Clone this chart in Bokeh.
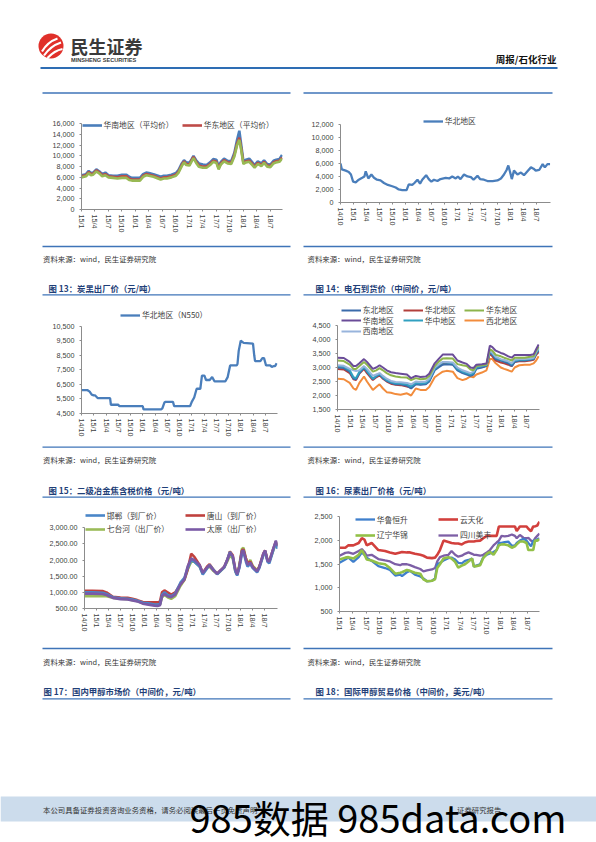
import math
from bokeh.plotting import figure
from bokeh.models import Range1d, FixedTicker, NumeralTickFormatter, Legend, LegendItem
from bokeh.layouts import column, row
from bokeh.core.properties import value
from bokeh.embed import file_html
from bokeh.resources import INLINE

# ---------------- data ----------------
ticks_15 = ["15/1", "15/4", "15/7", "15/10", "16/1", "16/4", "16/7", "16/10",
            "17/1", "17/4", "17/7", "17/10", "18/1", "18/4", "18/7"]
ticks_14 = ["14/10"] + ticks_15

# chart A (months since 2015-01): carbon black region prices
a_m = [0, 1, 1.6, 2.1, 2.6, 3.3, 4.0, 4.6, 5.3, 6.0, 7, 8, 9, 10, 10.6, 11.2, 12, 13, 13.7, 14.4,
       15, 16, 17, 17.6, 18.3, 19, 20, 21, 21.6, 22.3, 22.8, 23.3, 24, 24.5, 24.9, 25.5, 26.1, 27, 27.8, 28.6,
       29.3, 30, 30.5, 31, 31.7, 32.5, 33.3, 34, 34.6, 35.1, 35.5, 36, 36.6, 37.3, 38, 38.5, 39.2, 40, 40.6, 41.3,
       42, 42.7, 43.3, 44, 44.6]
a_south = [6400, 6600, 7200, 6800, 6900, 7500, 7100, 6600, 6900, 6400,
           6300, 6300, 6500, 6500, 6100, 5900, 5900, 5900, 6600, 6900,
           6800, 6600, 6300, 6100, 6300, 6300, 6500, 6800, 7400, 8600,
           9200, 8800, 8700, 9400, 10000, 9200, 8600, 8400, 8300, 8800,
           9400, 9300, 8100, 8900, 9500, 9100, 9000, 10600, 13000, 14700,
           12200, 9000, 9300, 9500, 8800, 8300, 9000, 8600, 9200, 8500,
           8400, 9100, 9300, 9400, 10200]
a_east = [6200, 6400, 7000, 6600, 6700, 7300, 6900, 6400, 6600, 6200,
          6100, 6000, 6200, 6200, 5800, 5600, 5600, 5600, 6300, 6600,
          6500, 6300, 6000, 5800, 6000, 6000, 6200, 6500, 7100, 8300,
          9000, 8500, 8400, 9200, 9800, 8900, 8200, 8000, 8000, 8500,
          9100, 8900, 7700, 8600, 9200, 8800, 8700, 10200, 12300, 13400,
          11500, 8700, 9000, 9100, 8500, 8000, 8700, 8300, 8900, 8200,
          8100, 8800, 9000, 9100, 9700]
a_other = [6000, 6200, 6800, 6400, 6500, 7100, 6700, 6200, 6400, 6000,
           5900, 5800, 5900, 5900, 5500, 5400, 5400, 5400, 6100, 6400,
           6300, 6100, 5800, 5600, 5800, 5800, 6000, 6300, 6900, 8100,
           8800, 8300, 8200, 9000, 9600, 8700, 8000, 7800, 7800, 8300,
           8900, 8700, 7500, 8400, 9000, 8600, 8500, 9900, 12000, 13000,
           11200, 8500, 8800, 8900, 8300, 7800, 8500, 8100, 8700, 8000,
           7900, 8600, 8800, 8900, 9500]

# chart B (months since 2014-10): calcium carbide, North China
b_m = [0, 0.3, 1.2, 1.9, 2.4, 2.9, 3.5, 4.2, 5.0, 5.5, 5.8, 6.4, 7.1, 7.7, 8.4, 9.2, 10, 10.9, 11.9, 12.7,
       13.4, 14.2, 15.2, 15.7, 16.5, 17, 17.7, 18.3, 18.8, 19.7, 20.3, 20.9, 21.5, 22.3, 23, 24.2, 25, 25.7, 26.5, 27,
       27.6, 28.4, 29.2, 30, 30.6, 31.5, 32.1, 33, 33.8, 35, 36.1, 36.9, 37.6, 38.2, 38.6, 39, 39.4, 39.9, 40.7, 41.5,
       42.2, 43, 43.8, 44.4, 44.9, 45.7, 46.5, 47, 47.6, 48.2]
b_north = [6000, 5100, 4900, 4700, 4300, 3200, 3100, 3500, 3800, 4000,
           4800, 3700, 4300, 3800, 3500, 3400, 3000, 2700, 2500, 2300,
           2000, 1900, 1900, 2800, 2700, 3000, 3500, 2900, 3500, 4200,
           3600, 3200, 3500, 3300, 3600, 3800, 3700, 4000, 3700, 4000,
           3600, 4300, 4000, 3900, 3500, 4100, 3600, 3500, 3300, 3300,
           3400, 3700, 4300, 5000, 5700, 4700, 3600, 4900, 4300, 4600,
           4200, 4800, 5400, 5200, 4900, 5000, 5900, 5400, 5900, 5900]

# chart C (months since 2014-10): metallurgical coke N550
c_m = [0, 1.5, 2, 2.5, 3, 3.3, 4, 7, 7.2, 9, 9.3, 15, 15.2, 19.5, 19.8, 20.3, 20.6, 22.4, 22.7, 26.6,
       27, 27.6, 28.2, 29.1, 29.5, 30.1, 30.5, 31.4, 32, 32.6, 35.2, 35.8, 36.4, 38, 38.2, 38.5, 39, 39.7, 42, 42.3,
       42.5, 43.8, 44.3, 44.7, 45.2, 46.2, 46.6, 47, 47.4, 47.8]
c_north = [6100, 6100, 6000, 5800, 5750, 5750, 5550, 5550, 5100, 5100,
           5000, 5000, 4780, 4780, 4850, 5250, 5300, 5300, 5000, 5000,
           5300, 5600, 6200, 6200, 7100, 7100, 6800, 6800, 7000, 6700,
           6700, 7000, 7800, 7800, 7900, 8800, 9500, 9350, 9300, 8500,
           8100, 8100, 8300, 8300, 7800, 7800, 7700, 7750, 7750, 7950]

# chart D (months since 2014-10): urea ex-factory prices
d_m = [0, 1.5, 2.9, 3.8, 4.4, 5.2, 6.3, 7.0, 8.4, 9.2, 10.0, 10.8, 11.7, 12.7, 13.8, 15.0, 16.5, 17.5, 18.6, 19.7,
       21.0, 21.8, 23.1, 24.0, 25.0, 25.9, 27.4, 28.5, 29.7, 30.7, 31.6, 32.3, 33.0, 34.3, 35.4, 36.2, 36.8, 37.6, 38.8, 39.6,
       40.6, 41.4, 42.1, 43.2, 44.5, 45.8, 46.6, 47.2, 47.8]
d_northeast = [3000, 2980, 2850, 2600, 2580, 2800, 3000, 2850, 2580, 2680,
               2750, 2620, 2520, 2450, 2400, 2400, 2350, 2250, 2400, 2380,
               2400, 2500, 2900, 3000, 3100, 3120, 3100, 2900, 2800, 2750,
               2700, 2750, 2950, 3000, 3050, 3550, 3450, 3300, 3250, 3200,
               3150, 3050, 3200, 3250, 3250, 3280, 3300, 3500, 3600]
d_north = [2950, 2930, 2800, 2580, 2550, 2780, 2950, 2800, 2550, 2650,
           2720, 2600, 2500, 2420, 2380, 2370, 2320, 2280, 2420, 2400,
           2420, 2520, 2950, 3050, 3150, 3150, 3120, 2920, 2830, 2780,
           2720, 2780, 2980, 3020, 3060, 3500, 3400, 3250, 3180, 3150,
           3100, 3050, 3200, 3220, 3220, 3250, 3280, 3450, 3550]
d_east = [3250, 3230, 3100, 2950, 2950, 3050, 3200, 3100, 2850, 2900,
          2980, 2900, 2800, 2720, 2680, 2650, 2640, 2550, 2620, 2580,
          2600, 2700, 3050, 3200, 3320, 3330, 3320, 3120, 3080, 3050,
          2930, 2900, 3050, 3080, 3100, 3650, 3600, 3450, 3400, 3350,
          3300, 3250, 3350, 3350, 3350, 3380, 3400, 3600, 3750]
d_south = [3350, 3340, 3200, 3050, 3050, 3150, 3300, 3200, 2950, 3000,
           3080, 3000, 2900, 2830, 2800, 2780, 2750, 2620, 2700, 2660,
           2680, 2780, 3150, 3300, 3460, 3460, 3460, 3250, 3180, 3130,
           3000, 2980, 3100, 3120, 3140, 3780, 3730, 3600, 3520, 3480,
           3400, 3350, 3450, 3450, 3450, 3450, 3470, 3650, 3820]
d_central = [3050, 3030, 2900, 2650, 2620, 2850, 3020, 2880, 2600, 2700,
             2780, 2650, 2550, 2480, 2440, 2430, 2400, 2320, 2450, 2430,
             2450, 2550, 2950, 3080, 3180, 3180, 3150, 2950, 2850, 2800,
             2750, 2800, 3000, 3050, 3080, 3600, 3500, 3350, 3280, 3250,
             3200, 3120, 3250, 3280, 3280, 3300, 3320, 3520, 3650]
d_northwest = [2600, 2580, 2450, 2250, 2200, 2450, 2680, 2500, 2200, 2300,
               2400, 2250, 2120, 2100, 2050, 2030, 2080, 2000, 2250, 2200,
               2200, 2300, 2650, 2750, 2850, 2880, 2850, 2620, 2550, 2600,
               2680, 2650, 2750, 2820, 2900, 3300, 3300, 3150, 3000, 2950,
               2900, 2850, 3000, 3080, 3100, 3100, 3150, 3250, 3400]
d_southwest = [3080, 3060, 2950, 2900, 2870, 2900, 3050, 2950, 2700, 2750,
               2800, 2700, 2600, 2520, 2480, 2470, 2450, 2400, 2500, 2480,
               2500, 2600, 3000, 3100, 3200, 3200, 3180, 3000, 2900, 2850,
               2800, 2850, 3050, 3080, 3100, 3620, 3520, 3380, 3300, 3270,
               3220, 3150, 3280, 3300, 3300, 3320, 3350, 3550, 3700]

# chart E (months since 2014-10): domestic methanol
e_m = [0, 2, 4.5, 5.5, 7.1, 9, 10.8, 12, 13.2, 14.6, 16, 17.5, 18.3, 18.9, 19.4, 20, 20.8, 21.7, 22.7, 24,
       25, 25.8, 26.7, 27.5, 28.8, 29.6, 30.7, 31.3, 32.3, 33.2, 34.2, 35, 35.7, 36.4, 37.1, 37.75, 38.2, 38.75, 39.4, 39.8,
       40.4, 40.8, 41.5, 42.1, 43.2, 43.75, 44.75, 45.2, 45.8, 46.25, 47.1, 47.9, 48.3]
e_handan = [1000, 1000, 990, 950, 850, 820, 800, 780, 740, 680,
            660, 620, 620, 640, 920, 1000, 920, 880, 960, 1300,
            1450, 1750, 2000, 1950, 1800, 1550, 1750, 1850, 1700, 1560,
            1680, 1780, 2000, 2250, 2100, 1650, 1520, 1750, 2200, 2250,
            1950, 1800, 1880, 1750, 1620, 1750, 2150, 2280, 1950, 1900,
            2250, 2560, 2350]
e_tangshan = [1050, 1050, 1040, 1000, 860, 840, 830, 800, 760, 700,
              690, 690, 690, 720, 1000, 1060, 1000, 930, 1000, 1250,
              1400, 1700, 2200, 2100, 1850, 1600, 1800, 1870, 1700, 1580,
              1700, 1800, 2000, 2270, 2150, 1700, 1550, 1800, 2300, 2330,
              2050, 1900, 1950, 1800, 1650, 1800, 2200, 2300, 2000, 1950,
              2300, 2580, 2420]
e_qitaihe = [880, 880, 880, 880, 830, 800, 790, 760, 730, 660,
             640, 620, 620, 620, 850, 920, 850, 800, 880, 1200,
             1380, 1700, 1950, 1950, 1800, 1580, 1760, 1800, 1660, 1570,
             1680, 1780, 1950, 2150, 2050, 1650, 1550, 1850, 2350, 2380,
             2050, 1900, 2000, 1820, 1680, 1800, 2150, 2280, 2000, 1950,
             2250, 2520, 2450]
e_taiyuan = [960, 960, 950, 920, 830, 790, 780, 750, 720, 650,
             620, 590, 580, 600, 880, 950, 880, 850, 930, 1250,
             1400, 1800, 2050, 2000, 1850, 1600, 1780, 1830, 1680, 1580,
             1700, 1800, 2000, 2220, 2120, 1700, 1560, 1800, 2280, 2300,
             2000, 1850, 1920, 1780, 1650, 1780, 2200, 2300, 1980, 1950,
             2300, 2600, 2450]

# chart F (months since 2015-01): international methanol trade
f_m = [0, 1.3, 2, 3.1, 4.3, 5, 5.6, 6.1, 7.2, 8.7, 10.2, 11.3, 12.5, 13.6, 14, 15.1, 15.8, 16.9, 18.1, 18.8,
       19.6, 20.7, 21.4, 21.9, 22.5, 23.3, 24.4, 25.1, 25.9, 26.6, 27.4, 28.1, 28.9, 29.7, 30.1, 30.6, 31.5, 32.2, 33, 33.7,
       34.5, 35.2, 35.7, 36.3, 37, 37.8, 38.6, 39.3, 39.7, 40.4, 41.2, 41.9, 42.3, 42.9, 43.4, 43.8, 44.3, 44.8]
f_hualu = [1530, 1600, 1640, 1550, 1650, 1750, 1700, 1640, 1570, 1460,
           1420, 1380, 1260, 1280, 1250, 1330, 1360, 1280, 1240, 1200,
           1140, 1150, 1200, 1500, 1530, 1580, 1630, 1640, 1600, 1530,
           1520, 1570, 1590, 1620, 1450, 1470, 1500, 1650, 1700, 1730,
           1760, 1800, 1950, 1950, 1970, 1980, 1890, 1900, 1950, 2000,
           2040, 2000, 1950, 1880, 2000, 2000, 2030, 2050]
f_yuntianhua = [1850, 1850, 1900, 1900, 1950, 2050, 2020, 1900, 1950, 1800,
                1780, 1750, 1720, 1750, 1760, 1750, 1750, 1720, 1700, 1680,
                1640, 1630, 1640, 1700, 1800, 2000, 1970, 1950, 1940, 1940,
                1920, 1960, 1980, 1980, 1980, 1990, 2000, 2050, 2100, 2100,
                2100, 2100, 2300, 2300, 2300, 2300, 2300, 2300, 2200, 2300,
                2300, 2300, 2250, 2200, 2300, 2300, 2320, 2400]
f_huajin = [1600, 1640, 1650, 1620, 1700, 1800, 1700, 1600, 1580, 1520,
            1500, 1420, 1300, 1320, 1330, 1380, 1360, 1320, 1300, 1180,
            1140, 1150, 1180, 1420, 1500, 1620, 1650, 1620, 1550, 1430,
            1470, 1500, 1560, 1620, 1450, 1460, 1480, 1630, 1720, 1760,
            1700, 1800, 1900, 1920, 1920, 1900, 1850, 1880, 1920, 1980,
            1980, 1950, 1800, 1800, 1800, 2000, 2000, 2030]
f_meifeng = [1680, 1740, 1750, 1720, 1780, 1820, 1760, 1680, 1700, 1610,
             1580, 1560, 1500, 1480, 1500, 1500, 1480, 1440, 1400, 1350,
             1370, 1390, 1420, 1560, 1650, 1680, 1700, 1780, 1700, 1660,
             1680, 1720, 1750, 1720, 1700, 1700, 1680, 1700, 1750, 1800,
             1900, 1960, 2000, 2100, 2090, 2100, 2130, 2100, 2050, 2120,
             2060, 2050, 2060, 2000, 1980, 2050, 2100, 2150]

SRC = "资料来源：wind，民生证券研究院"
captions = ["图 13：炭黑出厂价（元/吨）", "图 14：电石到货价（中间价，元/吨）",
            "图 15：二级冶金焦含税价格（元/吨）", "图 16：尿素出厂价格（元/吨）",
            "图 17：国内甲醇市场价（中间价，元/吨）", "图 18：国际甲醇贸易价格（中间价，美元/吨）"]

CJK = "Noto Sans CJK SC"
NUMF = "Liberation Sans"
LINE_BLUE = "#3F74B8"
CAP_COLOR = "#1F3F78"
PAGE_W = 596


def make_chart(fx0, fx1, fy0, fy1, fl, fr, axis_top, fb, frame_top,
               xmax, y0, y1, ystep, yfmt, xlabels):
    # the frame reaches up to frame_top so that the legend fits inside it;
    # the y axis itself is bounded to [y0, y1]
    y1_ext = y1 + (axis_top - frame_top) * (y1 - y0) / (fb - axis_top)
    p = figure(width=fx1 - fx0, height=fy1 - fy0,
               x_range=Range1d(0, xmax), y_range=Range1d(y0, y1_ext),
               output_backend="svg", toolbar_location=None,
               min_border_left=round(fl - fx0), min_border_right=round(fx1 - fr),
               min_border_top=round(frame_top - fy0), min_border_bottom=round(fy1 - fb))
    p.outline_line_color = None
    p.grid.visible = False
    ticks = [3 * i for i in range(len(xlabels))]
    p.xaxis.ticker = FixedTicker(ticks=ticks)
    p.xaxis.major_label_overrides = {t: lab for t, lab in zip(ticks, xlabels)}
    p.xaxis.major_label_orientation = -math.pi / 2
    p.xaxis.major_tick_out = 2
    p.xaxis.major_tick_in = 0
    p.xaxis.major_label_standoff = 3
    p.yaxis.ticker = FixedTicker(ticks=list(range(y0, y1 + 1, ystep)))
    p.yaxis.formatter = NumeralTickFormatter(format=yfmt)
    p.yaxis.bounds = (y0, y1)
    p.yaxis.major_tick_out = 2
    p.yaxis.major_tick_in = 0
    p.yaxis.major_label_standoff = 5
    for ax in p.axis:
        ax.axis_line_color = "#8C8C8C"
        ax.major_tick_line_color = "#8C8C8C"
        ax.minor_tick_line_color = None
        ax.major_label_text_font = NUMF
        ax.major_label_text_font_size = "7.2px"
        ax.major_label_text_color = "#404040"
    p._fl = fl
    p._fb = fb
    return p


def add_leg(p, r, label, lx, ly):
    leg = Legend(items=[LegendItem(label=label, renderers=[r])],
                 location=(lx - p._fl, p._fb - ly - 5), orientation="horizontal",
                 padding=0, margin=0, spacing=0, glyph_width=20, glyph_height=10,
                 label_height=10, label_width=10, label_standoff=2,
                 border_line_color=None, background_fill_alpha=0,
                 label_text_font=CJK, label_text_font_size="7.8px",
                 label_text_color="#404040")
    p.add_layout(leg)


def deco(y0, y1):
    p = figure(width=PAGE_W, height=y1 - y0, x_range=Range1d(0, PAGE_W), y_range=Range1d(y1, y0),
               output_backend="svg", toolbar_location=None, min_border=0,
               x_axis_location=None, y_axis_location=None)
    p.outline_line_color = None
    p.grid.visible = False
    return p


# ---------------- header ----------------
hdr = deco(0, 98)
hdr.scatter(x=[50.5], y=[45.5], size=25, color="#E0302A", line_color=None)
hdr.quadratic(x0=[41.5, 43.5, 47], y0=[51, 55, 57.5], x1=[57, 60.5, 62],
              y1=[38, 42, 48.5], cx=[47, 50, 54], cy=[41.5, 45.5, 50],
              line_color="white", line_width=2.2)
hdr.text(x=[70], y=[45], text=["民生证券"], text_font=value(CJK), text_font_style="bold",
         text_font_size=value("18px"), text_color="#3A3A3A", text_baseline="middle")
hdr.text(x=[70.5], y=[59.5], text=["MINSHENG SECURITIES"], text_font=value(NUMF),
         text_font_style="bold", text_font_size=value("5.6px"), text_color="#3A3A3A",
         text_baseline="middle")
hdr.text(x=[556], y=[58.5], text=["周报/石化行业"], text_font=value(CJK), text_font_style="bold",
         text_font_size=value("9.5px"), text_color="#111111", text_baseline="middle",
         text_align="right")
hdr.segment(x0=[40], y0=[67.5], x1=[557], y1=[67.5], line_color="#2E6DB4", line_width=2)
hdr.segment(x0=[42, 303], y0=[92.5, 92.5], x1=[290, 552], y1=[92.5, 92.5],
            line_color=LINE_BLUE, line_width=1.3)


# ---------------- separators ----------------
def sep(y0, y1, yl1, ys, yc, yl2, cap_l, cap_r, cxl):
    s = deco(y0, y1)
    s.segment(x0=[42, 303, 42, 303], y0=[yl1, yl1, yl2, yl2], x1=[290, 552, 290, 552],
              y1=[yl1, yl1, yl2, yl2], line_color=LINE_BLUE, line_width=1.3)
    s.text(x=[42.5, 307], y=[ys, ys], text=[SRC, SRC], text_font=value(CJK),
           text_font_size=value("7.4px"), text_color="#333333", text_baseline="middle")
    s.text(x=[cxl, 315], y=[yc, yc], text=[cap_l, cap_r], text_font=value(CJK),
           text_font_style="bold", text_font_size=value("8.4px"), text_color=CAP_COLOR,
           text_baseline="middle")
    return s


sep1 = sep(244, 300, 246, 257.7, 287, 294.3, captions[0], captions[1], 48)
sep2 = sep(444, 502, 446.7, 459.3, 489, 496.7, captions[2], captions[3], 48)
sep3 = sep(645, 703, 648, 660.7, 690.7, 698.3, captions[4], captions[5], 43)

# ---------------- charts ----------------
# A
pa = make_chart(0, 296, 98, 244, 81, 281.7, 123.3, 209, 117, 44.7, 0, 16000, 2000, "0,0", ticks_15)
ra1 = pa.line(a_m, a_south, line_color="#4A7EBB", line_width=2.6)
ra2 = pa.line(a_m, a_east, line_color="#BE4B48", line_width=2.6)
pa.line(a_m, a_other, line_color="#98B954", line_width=2.6)
add_leg(pa, ra1, "华南地区（平均价）", 81.5, 125)
add_leg(pa, ra2, "华东地区（平均价）", 181.7, 125)

# B
pb = make_chart(296, 596, 98, 244, 340, 549.6, 124, 202.3, 114, 48.3, 0, 12000, 2000, "0,0", ticks_14)
rb = pb.line(b_m, b_north, line_color="#4A7EBB", line_width=2.3)
add_leg(pb, rb, "华北地区", 422.7, 121.7)

# C
pc = make_chart(0, 296, 300, 444, 81, 277, 325.7, 413.3, 308, 48, 4500, 10500, 1000, "0,0", ticks_14)
rc = pc.line(c_m, c_north, line_color="#4A7EBB", line_width=2.3)
add_leg(pc, rc, "华北地区（N550）", 120, 315.7)

# D
pd_ = make_chart(296, 596, 300, 444, 337, 539, 325, 409, 302, 48, 1500, 4500, 500, "0,0", ticks_14)
d_series = [(d_northwest, "#F28C3C", "西北地区"), (d_north, "#B23F3B", "华北地区"),
            (d_northeast, "#3A6BAA", "东北地区"), (d_central, "#31A0C0", "华中地区"),
            (d_southwest, "#98B4DC", "西南地区"), (d_east, "#8DB44C", "华东地区"),
            (d_south, "#6A4C98", "华南地区")]
d_r = {}
for vals, col, name in d_series:
    d_r[name] = pd_.line(d_m, vals, line_color=col, line_width=2)
d_leg_pos = [("东北地区", 340.7, 310), ("华北地区", 402.7, 310), ("华东地区", 464, 310),
             ("华南地区", 340.7, 320.7), ("华中地区", 402.7, 320.7), ("西北地区", 464, 320.7),
             ("西南地区", 340.7, 331.3)]
for name, lx, ly in d_leg_pos:
    add_leg(pd_, d_r[name], name, lx, ly)

# E
pe = make_chart(0, 296, 502, 645, 84.3, 277, 527.3, 607.7, 508, 48.3, 500, 3000, 500, "0,0.00", ticks_14)
re_g = pe.line(e_m, e_qitaihe, line_color="#9BBB59", line_width=2.6)
re_r = pe.line(e_m, e_tangshan, line_color="#C0413E", line_width=2.6)
re_b = pe.line(e_m, e_handan, line_color="#4A86C8", line_width=2.6)
re_p = pe.line(e_m, e_taiyuan, line_color="#7A5AA6", line_width=2.6)
add_leg(pe, re_b, "邯郸（到厂价）", 85, 515.3)
add_leg(pe, re_r, "唐山（到厂价）", 185, 515.3)
add_leg(pe, re_g, "七台河（出厂价）", 85, 529)
add_leg(pe, re_p, "太原（出厂价）", 185, 529)

# F
pf = make_chart(296, 596, 502, 645, 339.3, 539.3, 516.5, 611.3, 508, 44.8, 500, 2500, 500, "0,0", ticks_15)
rf_p = pf.line(f_m, f_meifeng, line_color="#7D5FA6", line_width=2.3)
rf_r = pf.line(f_m, f_yuntianhua, line_color="#D2403D", line_width=2.6)
rf_b = pf.line(f_m, f_hualu, line_color="#3F7FCC", line_width=2.3)
rf_g = pf.line(f_m, f_huajin, line_color="#92C047", line_width=2.6)
add_leg(pf, rf_b, "华鲁恒升", 355, 520)
add_leg(pf, rf_r, "云天化", 438.3, 520)
add_leg(pf, rf_g, "辽宁华锦", 355, 535.5)
add_leg(pf, rf_p, "四川美丰", 438.3, 535.5)

# ---------------- footer ----------------
ftr = deco(703, 842)
ftr.quad(left=[0], right=[PAGE_W], top=[796], bottom=[821], fill_color="#CCDCEC", line_color=None)
ftr.text(x=[42.5, 456.5], y=[808.5, 808.5],
         text=["本公司具备证券投资咨询业务资格，请务必阅读最后一页免责声明", "证券研究报告"],
         text_font=value(CJK), text_font_size=value("7.4px"), text_color="#333333",
         text_baseline="middle")
ftr.text(x=[189], y=[816], text=["985数据 985data.com"], text_font=value(CJK),
         text_font_size=value("38px"), text_color="#000000", text_baseline="middle")

page = column(hdr, row(column(pa), column(pb)), sep1, row(column(pc), column(pd_)), sep2,
              row(column(pe), column(pf)), sep3, ftr)

open("out.html", "w").write(file_html(page, INLINE))
